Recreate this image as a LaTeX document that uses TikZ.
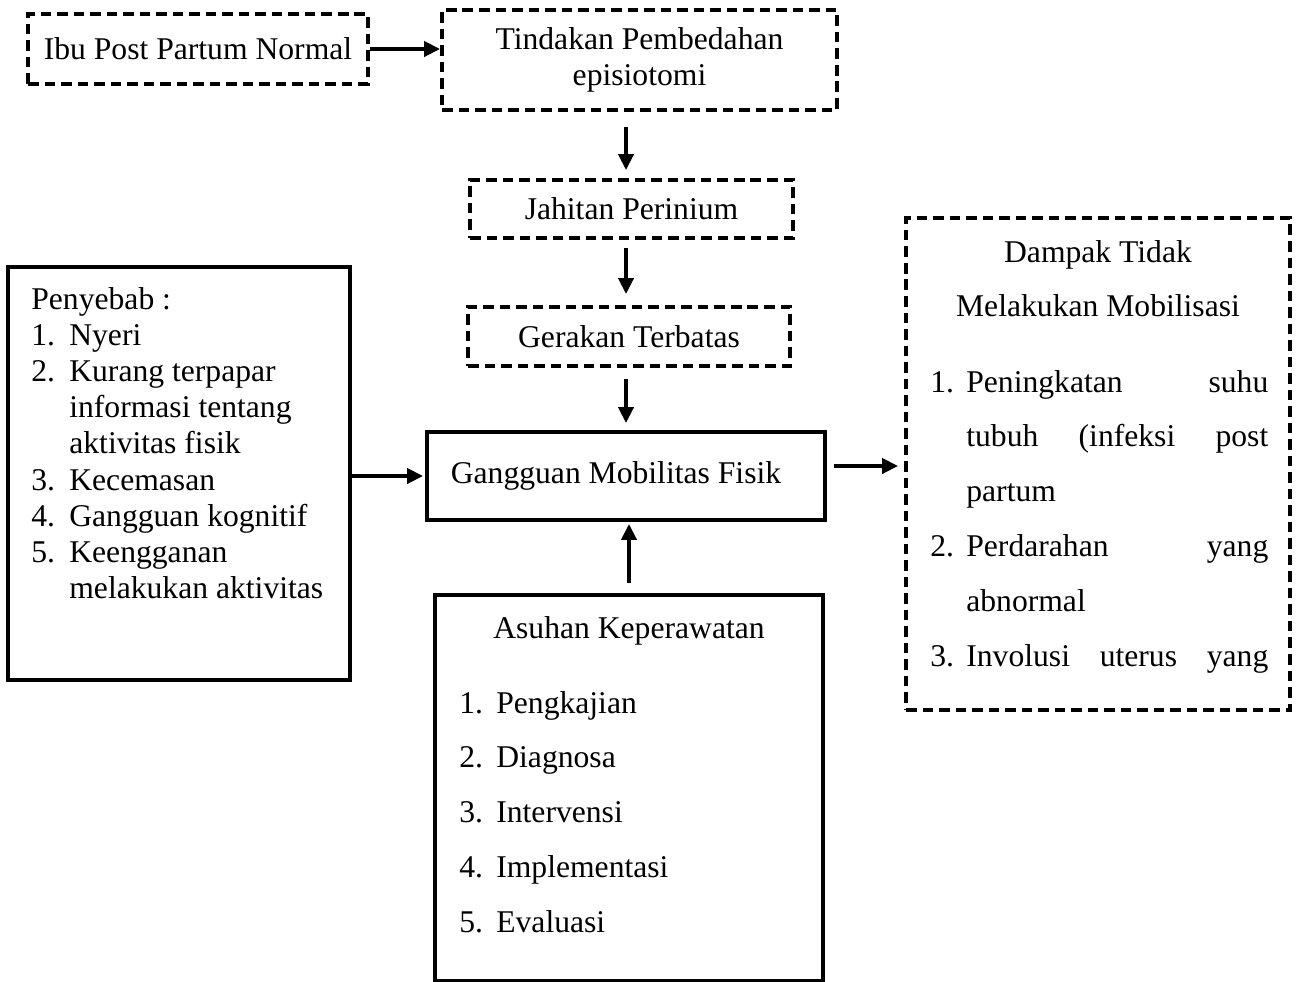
\documentclass[tikz,border=0pt]{standalone}
\usepackage{fontspec}
\setmainfont{Liberation Serif}
\usepackage{array}
\usetikzlibrary{arrows.meta, positioning}
\newcommand{\justline}[1]{\makebox[6.04cm][s]{#1}}

\begin{document}
\begin{tikzpicture}[
    every node/.style={font=\fontsize{18}{20.6}\selectfont},
    dbox/.style={draw, line width=2.2pt, dash pattern=on 6pt off 3.4pt},
    sbox/.style={draw, line width=2.2pt},
    arr/.style={-{Triangle[length=0.32cm, width=0.3cm]}, line width=2.2pt},
    txt/.style={inner sep=0pt, anchor=base west},
    wide/.style={font=\fontsize{18}{31.2}\selectfont}
]
    \useasboundingbox (0,0) rectangle (26,-19.62);

    % boxes of the main flow
    \node[dbox, minimum width=6.8cm, minimum height=1.4cm] (ibu) at (3.96,-0.98) {Ibu Post Partum Normal};
    \node[dbox, minimum width=7.9cm, minimum height=2cm, align=center] (tindakan) at (12.79,-1.2) {Tindakan Pembedahan\\episiotomi};
    \node[dbox, minimum width=6.46cm, minimum height=1.16cm] (jahitan) at (12.63,-4.18) {Jahitan Perinium};
    \node[dbox, minimum width=6.44cm, minimum height=1.18cm] (gerakan) at (12.58,-6.73) {Gerakan Terbatas};
    \node[sbox, minimum width=7.96cm, minimum height=1.76cm] (gangguan) at (12.52,-9.52) {\hspace*{-0.4cm}Gangguan Mobilitas Fisik};

    % side boxes
    \node[sbox, minimum width=6.84cm, minimum height=8.26cm] (penyebab) at (3.58,-9.47) {};
    \node[dbox, minimum width=7.68cm, minimum height=9.84cm] (dampak) at (21.96,-9.28) {};
    \node[sbox, minimum width=7.76cm, minimum height=7.72cm] (asuhan) at (12.58,-15.76) {};

    % texts inside the side boxes
    \node[txt] (penyebabtxt) at (0.62,-6.18) {\begin{tabular}[t]{@{}p{0.76cm}@{}l@{}}
        \multicolumn{2}{@{}l@{}}{Penyebab :}\\
        1. & Nyeri\\
        2. & Kurang terpapar\\
           & informasi tentang\\
           & aktivitas fisik\\
        3. & Kecemasan\\
        4. & Gangguan kognitif\\
        5. & Keengganan\\
           & melakukan aktivitas
    \end{tabular}};

    \node[wide, inner sep=0pt, anchor=base] (dampakjudul) at (21.96,-5.24) {\begin{tabular}[t]{@{}c@{}}
        Dampak Tidak\\ Melakukan Mobilisasi
    \end{tabular}};
    \node[wide, txt] (dampaktxt) at (18.6,-7.84) {\begin{tabular}[t]{@{}p{0.72cm}@{}l@{}}
        1. & \justline{Peningkatan\hfill suhu}\\
           & \justline{tubuh\hfill (infeksi\hfill post}\\
           & partum\\
        2. & \justline{Perdarahan\hfill yang}\\
           & abnormal\\
        3. & \justline{Involusi\hfill uterus\hfill yang}
    \end{tabular}};

    \node[inner sep=0pt, anchor=base] (asuhanjudul) at (12.58,-12.76) {Asuhan Keperawatan};
    \node[wide, txt] (asuhantxt) at (9.18,-14.26) {\begin{tabular}[t]{@{}p{0.74cm}@{}l@{}}
        1. & Pengkajian\\
        2. & Diagnosa\\
        3. & Intervensi\\
        4. & Implementasi\\
        5. & Evaluasi
    \end{tabular}};

    % arrows
    \draw[arr] (ibu.east) -- (ibu.east -| tindakan.west);
    \draw[arr, shorten <=0.3cm, shorten >=0.16cm] (tindakan.south -| gangguan.north) -- (jahitan.north -| gangguan.north);
    \draw[arr, shorten <=0.16cm, shorten >=0.22cm] (jahitan.south -| gangguan.north) -- (gerakan.north -| gangguan.north);
    \draw[arr, shorten <=0.22cm, shorten >=0.14cm] (gerakan.south -| gangguan.north) -- (gangguan.north);
    \draw[arr, shorten >=0.04cm] (penyebab.east |- gangguan.west) -- (gangguan.west);
    \draw[arr, shorten <=0.14cm, shorten >=0.12cm] ([yshift=0.2cm]gangguan.east) -- ([yshift=0.2cm]gangguan.east -| dampak.west);
    \draw[arr, shorten <=0.2cm, shorten >=0.04cm] (asuhan.north) -- (asuhan.north |- gangguan.south);
\end{tikzpicture}
\end{document}
